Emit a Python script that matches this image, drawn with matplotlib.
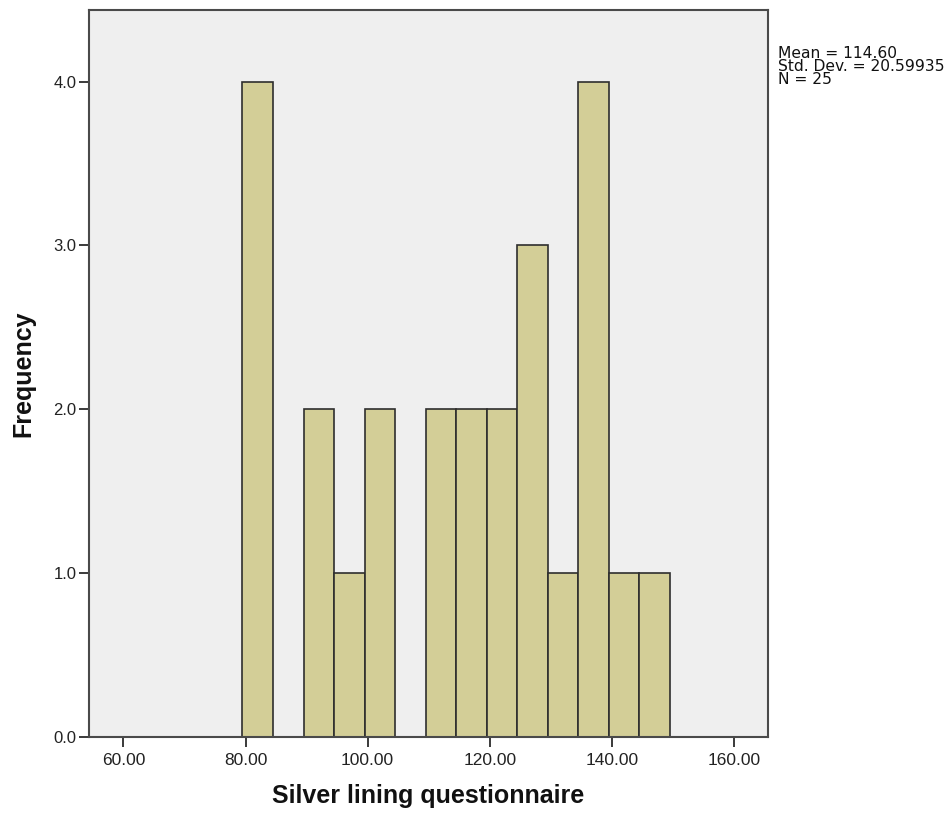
import matplotlib
matplotlib.use("Agg")
import matplotlib.pyplot as plt
import numpy as np

plt.rcParams['font.family'] = ['Liberation Sans', 'DejaVu Sans']

# Data (histogram bins, width 5)
bin_edges = [79.5, 84.5, 89.5, 94.5, 99.5, 104.5, 109.5, 114.5, 119.5, 124.5, 129.5, 134.5, 139.5, 144.5, 149.5]
counts    = [4,    0,    2,    1,    2,     0,     2,     2,     2,     3,     1,     4,     1,     1]
x_ticks = [60, 80, 100, 120, 140, 160]
x_tick_labels = ["60.00", "80.00", "100.00", "120.00", "140.00", "160.00"]
y_ticks = [0, 1, 2, 3, 4]
y_tick_labels = ["0.0", "1.0", "2.0", "3.0", "4.0"]
stats_lines = ["Mean = 114.60", "Std. Dev. = 20.59935", "N = 25"]
x_label = "Silver lining questionnaire"
y_label = "Frequency"

fig = plt.figure(figsize=(9.5, 8.17), dpi=100)
ax = fig.add_axes([89/950, 1-736.7/817, (767.7-89)/950, (736.7-10)/817])
ax.set_facecolor('#EFEFEF')

edges = np.array(bin_edges)
widths = np.diff(edges)
ax.bar(edges[:-1], counts, width=widths, align='edge', color='#D3CE97',
       edgecolor='#2e2e2e', linewidth=1.2, zorder=2)

ax.set_xlim(54.36, 165.54)
ax.set_ylim(0, 4.438)
ax.set_xticks(x_ticks)
ax.set_xticklabels(x_tick_labels)
ax.set_yticks(y_ticks)
ax.set_yticklabels(y_tick_labels)

for s in ax.spines.values():
    s.set_color('#4a4a4a')
    s.set_linewidth(1.5)

ax.tick_params(axis='x', direction='out', length=7.5, width=1.4, color='#3a3a3a',
               labelsize=12.5, pad=4, labelcolor='#222222')
ax.tick_params(axis='y', direction='out', length=7.5, width=1.4, color='#3a3a3a',
               labelsize=12, pad=1.5, labelcolor='#222222')

ax.set_xlabel(x_label, fontsize=18, fontweight='bold', color='#111111', labelpad=12)
ax.set_ylabel(y_label, fontsize=18, fontweight='bold', color='#111111', labelpad=13)

fig.text(778/950, 1 - 46/817, "\n".join(stats_lines), fontsize=11.2, color='#111111',
         family=['DejaVu Sans'], ha='left', va='top', linespacing=0.83)

fig.savefig('out.png', dpi=100)
